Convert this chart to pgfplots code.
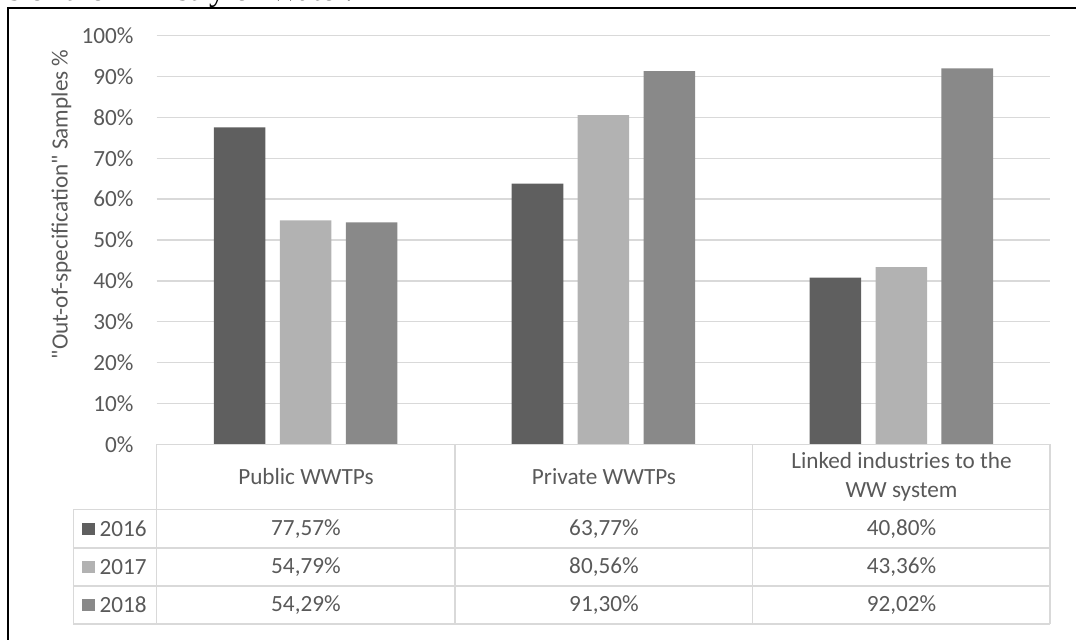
\documentclass[border=0pt]{standalone}
\usepackage{fontspec}
\setmainfont{Carlito}[Ligatures=TeXOff]
\newfontfamily\capfont{Liberation Serif}
\usepackage{pgfplots}
\usepackage{pgfplotstable}
\pgfplotsset{compat=1.18}

\definecolor{c16}{HTML}{5F5F5F}
\definecolor{c17}{HTML}{B2B2B2}
\definecolor{c18}{HTML}{898989}
\definecolor{txt}{HTML}{595959}
\definecolor{grd}{HTML}{D9D9D9}

% share of out-of-specification samples, by plant type and year
\pgfplotstableread{
cat y2016 y2017 y2018
0   77.57 54.79 54.29
1   63.77 80.56 91.30
2   40.80 43.36 92.02
}\data

\begin{document}
\begin{tikzpicture}[font=\fontsize{11.7}{14}\selectfont]
\begin{scope}[x=0.5pt,y=-0.5pt]
  \path[use as bounding box] (0,0) rectangle (1077,636);
\end{scope}

\begin{axis}[
  scale only axis,
  at={(79pt,-224pt)}, anchor=south west,
  width=450.5pt, height=206pt,
  xmin=-0.5, xmax=2.5,
  ymin=0, ymax=100,
  xtick=\empty,
  ytick={0,10,...,100},
  yticklabel={\pgfmathprintnumber{\tick}\%},
  /pgf/number format/assume math mode=true,
  yticklabel style={text=txt, anchor=east, inner sep=0pt, xshift=-11.5pt},
  major tick length=0pt,
  ymajorgrids,
  grid style={grd, line width=0.75pt},
  axis line style={draw=none},
  ybar=7.25pt, bar width=26pt,
  clip=false,
]
\addplot[fill=c16, draw=none] table[x=cat, y=y2016] {\data};
\addplot[fill=c17, draw=none] table[x=cat, y=y2017] {\data};
\addplot[fill=c18, draw=none] table[x=cat, y=y2018] {\data};
\end{axis}

\begin{scope}[x=0.5pt,y=-0.5pt]
  % caption line of the page above, cut by the page edge
  \begin{scope}
    \clip (0,0) rectangle (1077,636);
    \node[anchor=base west, inner sep=0pt, font=\fontsize{16.5}{18}\selectfont\capfont]
      at (-3,0.5) {rs of the Ministry of Water.};
  \end{scope}
  % chart frame
  \draw[line width=1pt] (8,645) -- (8,8) -- (1085,8);

  % y axis title
  \node[rotate=90, text=txt] at (62,206) {"Out-of-specification" Samples \%};

  % data table under the plot
  \begin{scope}[grd, line width=0.75pt]
    \draw (158,448) -- (1059,448);
    \foreach \yy in {514,552.5,591,629} \draw (74,\yy) -- (1059,\yy);
    \draw (74,514) -- (74,629);
    \foreach \xx in {158,459,759,1059} \draw (\xx,448) -- (\xx,629);
  \end{scope}

  \node[text=txt] at (308.5,481) {Public WWTPs};
  \node[text=txt] at (609,481) {Private WWTPs};
  \node[text=txt, align=center, font=\fontsize{11.7}{14.5}\selectfont] at (909,481)
    {Linked industries to the\\WW system};

  \foreach \c/\yc/\yr in {c16/533.5/2016, c17/572/2017, c18/610/2018}{
    \fill[\c] (83,\yc-6.5) rectangle (96,\yc+6);
    \node[text=txt, anchor=west, inner sep=0pt] at (100,\yc) {\yr};
  }

  \foreach \r/\xc in {0/308.5, 1/609, 2/909}{
    \foreach \col/\yc in {y2016/533.5, y2017/572, y2018/610}{
      \pgfplotstablegetelem{\r}{\col}\of\data
      \node[text=txt] at (\xc,\yc)
        {\pgfmathprintnumber[fixed, fixed zerofill, precision=2, use comma,
          assume math mode=true]{\pgfplotsretval}\%};
    }
  }
\end{scope}
\end{tikzpicture}
\end{document}
